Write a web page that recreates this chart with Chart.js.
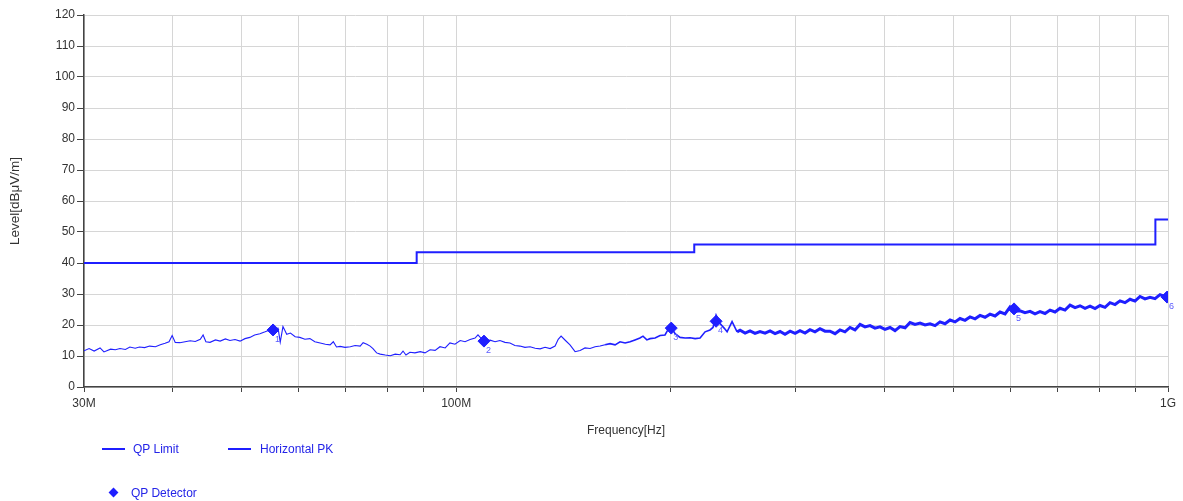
<!DOCTYPE html>
<html>
<head>
<meta charset="utf-8">
<script src="https://cdn.jsdelivr.net/npm/chart.js@4/dist/chart.umd.min.js"></script>
<style>
  body { margin: 0; background: #fff; font-family: "Liberation Sans", Arial, sans-serif; }
  .wrap { position: relative; width: 1183px; height: 501px; }
  .legend-item { position: absolute; font-size: 12px; color: #2424e8; line-height: 14px; }
  .legend-line { position: absolute; height: 2px; background: #1f1fff; }
  .legend-diamond { position: absolute; width: 7px; height: 7px; background: #1f1fff; transform: rotate(45deg); }
</style>
</head>
<body>
<div class="wrap">
  <canvas id="chart" width="1183" height="501"></canvas>
  <div class="legend-line" style="left:102px;top:448px;width:23px"></div>
  <div class="legend-item" style="left:133px;top:442px">QP Limit</div>
  <div class="legend-line" style="left:228px;top:448px;width:23px"></div>
  <div class="legend-item" style="left:260px;top:442px">Horizontal PK</div>
  <div class="legend-diamond" style="left:110px;top:489px"></div>
  <div class="legend-item" style="left:131px;top:486px">QP Detector</div>
</div>
<script>
// frequencies in MHz, levels in dBuV/m
var limitFreq = [30, 88, 88, 216, 216, 960, 960, 1000];
var limitLevel = [40, 40, 43.5, 43.5, 46, 46, 54, 54];

var markerFreq = [55.3, 109.4, 200.5, 231.8, 607.7, 997];
var markerLevel = [18.4, 14.8, 19.0, 21.2, 25.2, 29.0];
var markerNames = ["1", "2", "3", "4", "5", "6"];

var traceFreq = [
  30.0, 30.5, 31.0, 31.6, 32.0, 32.7, 33.2, 33.7, 34.3, 34.8, 35.4, 35.9, 36.5, 37.1, 37.8, 38.4,
  39.0, 39.5, 39.9, 40.3, 40.9, 41.6, 42.3, 43.0, 43.7, 44.1, 44.5, 45.1, 45.9, 46.6, 47.4, 48.1,
  48.9, 49.7, 50.5, 51.3, 52.1, 53.0, 53.9, 54.7, 55.6, 56.2, 56.6, 57.1, 57.8, 58.5, 59.4, 60.3,
  61.3, 62.3, 63.3, 64.4, 65.5, 66.5, 67.2, 67.9, 68.7, 69.8, 71.0, 72.1, 73.3, 74.0, 74.9, 75.7,
  76.4, 77.3, 78.2, 79.5, 80.8, 82.1, 83.4, 84.2, 85.0, 86.1, 87.5, 89.0, 90.4, 91.9, 93.4, 94.9,
  96.5, 98.0, 99.6, 101.3, 102.9, 104.6, 106.3, 107.3, 108.7, 110.1, 111.6, 113.4, 115.2, 117.1, 119.0, 120.9,
  122.9, 124.9, 127.0, 129.1, 131.2, 133.3, 135.5, 137.7, 139.1, 140.4, 142.4, 144.5, 146.9, 149.3, 151.7, 154.2,
  156.7, 159.3, 161.9, 164.5, 167.2, 169.9, 172.7, 175.5, 178.3, 181.2, 183.0, 185.3, 187.2, 190.3, 193.4, 196.5,
  198.4, 200.3, 203.0, 206.3, 209.7, 213.1, 216.6, 220.1, 223.7, 227.3, 229.5, 231.8, 234.8, 237.9, 240.2, 244.1,
  248.1, 250.5, 254.6, 258.7, 262.9, 267.2, 271.6, 276.0, 280.5, 285.1, 289.7, 294.5, 299.3, 304.1, 309.1, 314.1,
  319.2, 324.4, 329.7, 335.1, 340.6, 346.1, 351.7, 357.5, 363.3, 369.3, 375.3, 381.4, 387.6, 393.9, 400.3, 406.9,
  413.5, 420.3, 427.2, 434.1, 441.2, 448.4, 455.7, 463.1, 470.7, 478.3, 486.1, 494.1, 502.2, 510.3, 518.6, 527.1,
  535.7, 544.4, 553.3, 562.3, 571.5, 580.8, 590.3, 599.9, 609.7, 619.6, 629.7, 640.0, 650.4, 661.0, 671.8, 682.8,
  693.9, 705.2, 716.7, 728.4, 740.3, 752.3, 764.6, 777.1, 789.8, 802.6, 815.7, 829.0, 842.5, 856.2, 870.2, 884.4,
  898.8, 913.4, 928.3, 943.5, 958.9, 974.5, 990.4, 1000
];
var traceLevel = [
  11.7, 12.4, 11.6, 12.6, 11.3, 12.2, 12.0, 12.4, 12.1, 12.9, 12.5, 12.9, 12.7, 13.2, 13.0, 13.6,
  14.1, 14.6, 16.6, 14.4, 14.3, 14.6, 14.9, 14.7, 15.4, 16.8, 14.6, 14.4, 15.2, 14.8, 15.5, 15.0,
  15.3, 14.8, 15.6, 16.0, 16.8, 17.2, 17.8, 18.4, 18.8, 19.0, 14.5, 19.5, 17.0, 17.4, 16.2, 16.0,
  15.4, 15.6, 14.6, 14.2, 13.8, 13.6, 14.6, 12.9, 13.1, 12.8, 13.0, 13.4, 13.2, 14.3, 13.8, 13.2,
  12.4, 11.0, 10.6, 10.3, 10.1, 10.6, 10.4, 11.6, 10.3, 11.2, 11.0, 11.4, 11.0, 12.0, 11.8, 13.0,
  12.6, 14.2, 13.8, 15.0, 14.6, 15.3, 15.8, 16.8, 15.4, 14.8, 15.1, 14.6, 15.0, 14.4, 14.2, 13.4,
  13.2, 12.8, 13.0, 12.5, 12.3, 12.8, 12.4, 13.2, 15.4, 16.4, 15.0, 13.6, 11.4, 11.8, 12.6, 12.4,
  13.0, 13.2, 13.6, 14.0, 13.6, 14.6, 14.2, 14.6, 15.2, 15.8, 16.4, 15.2, 15.6, 15.8, 16.6, 16.8,
  18.5, 19.4, 17.2, 16.0, 15.8, 15.9, 15.6, 15.8, 17.8, 18.4, 19.2, 23.2, 20.5, 19.0, 17.8, 21.1,
  17.8, 18.3, 17.4, 18.1, 17.3, 17.9, 17.4, 18.1, 17.2, 17.9, 17.0, 18.0, 17.3, 18.2, 17.4, 18.5,
  17.8, 18.8, 18.0, 18.0, 17.2, 18.4, 17.8, 19.2, 18.4, 20.2, 19.4, 19.8, 19.0, 19.4, 18.6, 19.2,
  18.2, 19.5, 19.1, 20.8, 20.2, 20.6, 20.0, 20.4, 19.8, 21.0, 20.4, 21.6, 21.0, 22.1, 21.5, 22.6,
  22.0, 23.1, 22.5, 23.5, 22.9, 24.2, 23.6, 25.8, 24.4, 24.6, 24.0, 24.4, 23.6, 24.3, 23.7, 24.8,
  24.2, 25.4, 24.8, 26.4, 25.6, 26.2, 25.4, 26.1, 25.3, 26.3, 25.7, 27.2, 26.6, 27.8, 27.2, 28.3,
  27.7, 29.2, 28.4, 28.9, 28.5, 29.8, 29.2, 28.0
];

var xTicks = [30, 40, 50, 60, 70, 80, 90, 100, 200, 300, 400, 500, 600, 700, 800, 900, 1000];
var xTickLabels = ["30M", "", "", "", "", "", "", "100M", "", "", "", "", "", "", "", "", "1G"];

var blue = "#1f1fff";
var font = { family: "'Liberation Sans', Arial, sans-serif", size: 12 };

let markerNumbers = {
  id: "markerNumbers",
  afterDatasetsDraw(chart) {
    let meta = chart.getDatasetMeta(2);
    let c = chart.ctx;
    c.save();
    c.fillStyle = "#5a5aff";
    c.font = "9px 'Liberation Sans', Arial, sans-serif";
    meta.data.forEach((pt, i) => {
      c.fillText(markerNames[i], pt.x + 2, pt.y + 12);
    });
    c.restore();
  }
};

let ctx = document.querySelector("#chart");
var myChart = new Chart(ctx, {
  type: "line",
  data: {
    datasets: [
      {
        label: "QP Limit",
        data: limitFreq.map((f, i) => ({ x: f, y: limitLevel[i] })),
        borderColor: blue,
        borderWidth: 2,
        pointRadius: 0,
        tension: 0
      },
      {
        label: "Horizontal PK",
        data: traceFreq.map((f, i) => ({ x: f, y: traceLevel[i] })),
        borderColor: blue,
        borderWidth: 1,
        pointRadius: 0,
        tension: 0,
        segment: {
          borderWidth: c => c.p0.parsed.x >= 248 ? 3 : (c.p0.parsed.x >= 160 ? 1.6 : 1.1)
        }
      },
      {
        label: "QP Detector",
        data: markerFreq.map((f, i) => ({ x: f, y: markerLevel[i] })),
        showLine: false,
        pointStyle: "rectRot",
        pointRadius: 6,
        backgroundColor: blue,
        borderColor: blue
      }
    ]
  },
  options: {
    responsive: false,
    animation: false,
    devicePixelRatio: 1,
    layout: { padding: { left: 0, right: 15, top: 15, bottom: 59 } },
    plugins: { legend: { display: false }, tooltip: { enabled: false } },
    scales: {
      x: {
        type: "logarithmic",
        min: 30,
        max: 1000,
        afterBuildTicks: scale => { scale.ticks = xTicks.map(v => ({ value: v })); },
        afterFit: scale => { scale.height = 55; },
        ticks: {
          autoSkip: false,
          maxRotation: 0,
          padding: 4,
          color: "#333",
          font: font,
          callback: v => xTickLabels[xTicks.indexOf(v)]
        },
        grid: { color: "#d6d6d6", tickColor: "#444", tickLength: 5 },
        border: { color: "#444", width: 1.5 },
        title: { display: true, text: "Frequency[Hz]", color: "#333", font: font, padding: { top: 0, bottom: 4 } }
      },
      y: {
        min: 0,
        max: 120,
        afterFit: scale => { scale.width = 84; },
        ticks: { stepSize: 10, padding: 2, color: "#333", font: font },
        grid: { color: "#d6d6d6", tickColor: "#444", tickLength: 7 },
        border: { color: "#444", width: 1.5 },
        title: { display: true, text: "Level[dBμV/m]", color: "#333", font: { family: font.family, size: 13.5 }, padding: { top: 7, bottom: 0 } }
      }
    }
  },
  plugins: [markerNumbers]
});
</script>
</body>
</html>
